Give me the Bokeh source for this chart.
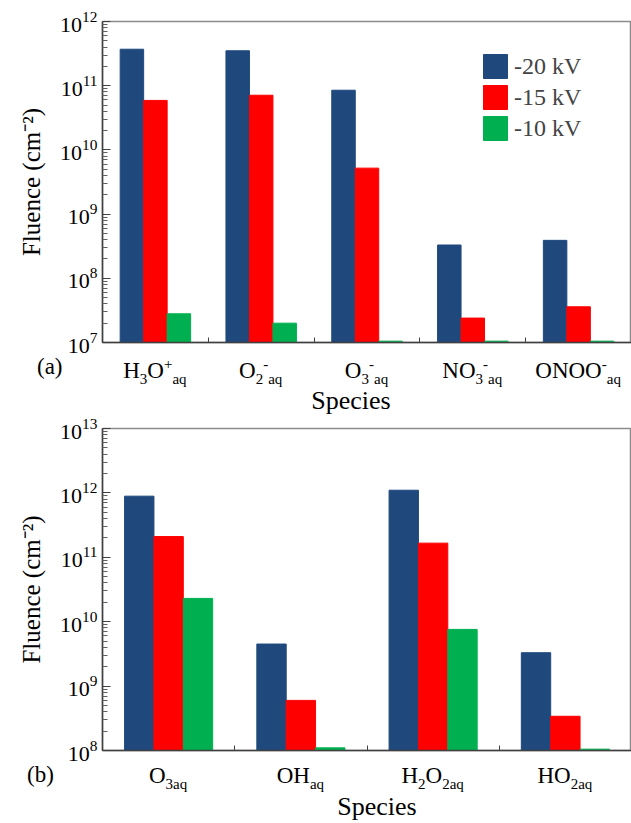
import numpy as np
from bokeh.plotting import figure
from bokeh.models import (ColumnDataSource, FixedTicker, Legend, LegendItem,
                          CustomJSTickFormatter, Div)
from bokeh.transform import dodge
from bokeh.layouts import column
from bokeh.embed import file_html
from bokeh.resources import INLINE

FONT = "Liberation Serif"

series_names = ["-20 kV", "-15 kV", "-10 kV"]
series_colors = ["#1F497D", "#FF0000", "#00B050"]

# ---- panel (a) ----
species_a = ["H3O+aq", "O2-aq", "O3-aq", "NO3-aq", "ONOO-aq"]
fluence_a_20kV = [3.7e11, 3.5e11, 8.5e10, 3.3e8, 3.9e8]
fluence_a_15kV = [5.9e10, 7.1e10, 5.2e9, 2.4e7, 3.6e7]
fluence_a_10kV = [2.8e7, 2.0e7, 1.05e7, 1.05e7, 1.05e7]
ticks_a = [1e7, 1e8, 1e9, 1e10, 1e11, 1e12]
# label markup: n = normal, b = subscript, p = superscript
labels_a = [
    [("H", "n"), ("3", "b"), ("O", "n"), ("+", "p"), ("aq", "b")],
    [("O", "n"), ("2", "b"), ("-", "p"), ("aq", "b")],
    [("O", "n"), ("3", "b"), ("-", "p"), ("aq", "b")],
    [("NO", "n"), ("3", "b"), ("-", "p"), ("aq", "b")],
    [("ONOO", "n"), ("-", "p"), ("aq", "b")],
]

# ---- panel (b) ----
species_b = ["O3aq", "OHaq", "H2O2aq", "HO2aq"]
fluence_b_20kV = [8.9e11, 4.5e9, 1.1e12, 3.3e9]
fluence_b_15kV = [2.1e11, 6.0e8, 1.66e11, 3.4e8]
fluence_b_10kV = [2.3e10, 1.1e8, 7.6e9, 1.05e8]
ticks_b = [1e8, 1e9, 1e10, 1e11, 1e12, 1e13]
labels_b = [
    [("O", "n"), ("3aq", "b")],
    [("OH", "n"), ("aq", "b")],
    [("H", "n"), ("2", "b"), ("O", "n"), ("2aq", "b")],
    [("HO", "n"), ("2aq", "b")],
]

W = 631
FRAME_L = 102
FRAME_W = W - FRAME_L
ASC = 0.8375  # baseline position in a line box of line-height 1 (Liberation Serif)


def rich_html(parts):
    out = []
    for t, k in parts:
        if k == "n":
            out.append(t)
        elif k == "b":
            out.append(f'<span style="font-size:15px;position:relative;top:6px">{t}</span>')
        else:
            out.append(f'<span style="font-size:15px;position:relative;top:-9px">{t}</span>')
    return "".join(out)


def text_span(html, x, baseline, fs, align="center"):
    top = baseline - ASC * fs
    tr = "transform:translateX(-50%);" if align == "center" else ""
    return (f'<span style="position:absolute;left:{x:.1f}px;top:{top:.1f}px;{tr}'
            f'white-space:nowrap;font-size:{fs}px;line-height:1;">{html}</span>')


def make_div(spans, height):
    html = (f'<div style="position:relative;width:{W}px;height:{height}px;'
            f'font-family:\'{FONT}\',serif;color:black;overflow:visible;">'
            + "".join(spans) + "</div>")
    return Div(text=html, width=W, height=height, margin=(0, 0, 0, 0))


def make_panel(species, values, ticks, height, b_top, b_bottom):
    n = len(species)
    ymin, ymax = ticks[0], ticks[-1]
    src = ColumnDataSource(dict(x=np.arange(n) + 0.5, species=species,
                                v20=values[0], v15=values[1], v10=values[2]))
    p = figure(width=W, height=height, x_range=(0, n), y_range=(ymin, ymax),
               y_axis_type="log", output_backend="svg", toolbar_location=None,
               min_border_left=FRAME_L, min_border_right=0, min_border_top=b_top,
               min_border_bottom=b_bottom)
    bw = 0.222
    rends = []
    for col, off, c in zip(["v20", "v15", "v10"], [-bw, 0, bw], series_colors):
        r = p.vbar(x=dodge("x", off), top=col, bottom=ymin, width=bw, source=src,
                   fill_color=c, line_color=c, line_width=1)
        rends.append(r)
    p.xgrid.visible = False
    p.ygrid.visible = False
    p.outline_line_color = "#8c8c8c"
    p.outline_line_width = 1.5
    p.background_fill_color = "white"
    p.border_fill_color = "white"

    minors = [k * t for t in ticks[:-1] for k in range(2, 10)]
    ya = p.yaxis[0]
    ya.ticker = FixedTicker(ticks=ticks, minor_ticks=minors)
    ya.major_tick_in = 8
    ya.major_tick_out = 0
    ya.minor_tick_in = 5
    ya.minor_tick_out = 0
    ya.axis_line_color = "#404040"
    ya.axis_line_width = 1.5
    ya.major_tick_line_color = "#404040"
    ya.minor_tick_line_color = "#606060"
    ya.major_label_text_font = FONT
    ya.major_label_text_font_size = "22px"
    ya.major_label_text_color = "black"
    ya.major_label_standoff = 5
    ya.axis_label = "Fluence (cm\u207b\u00b2)"
    ya.axis_label_text_font = FONT
    ya.axis_label_text_font_size = "25px"
    ya.axis_label_text_font_style = "normal"
    ya.axis_label_text_color = "black"
    ya.axis_label_standoff = 12

    xa = p.xaxis[0]
    xa.ticker = FixedTicker(ticks=list(range(1, n)), minor_ticks=[])
    xa.formatter = CustomJSTickFormatter(code="return ''")
    xa.major_tick_in = 5
    xa.major_tick_out = 0
    xa.major_label_standoff = 0
    xa.axis_line_color = "#404040"
    xa.axis_line_width = 1.5
    xa.major_tick_line_color = "#404040"
    return p, rends


# panel (a): canvas 0..356, frame 21..342
p1, r1 = make_panel(species_a, [fluence_a_20kV, fluence_a_15kV, fluence_a_10kV],
                    ticks_a, 356, 21, 14)
legend = Legend(items=[LegendItem(label=nm, renderers=[r]) for nm, r in zip(series_names, r1)],
                location=(378, 199), padding=0, margin=0, spacing=1,
                glyph_width=30, glyph_height=30, label_standoff=4,
                label_text_font=FONT, label_text_font_size="24px",
                border_line_color=None, background_fill_alpha=0)
p1.add_layout(legend)

# labels below panel (a): div 356..416
spans_a = []
na = len(species_a)
for i, parts in enumerate(labels_a):
    cx = FRAME_L + (i + 0.5) * FRAME_W / na
    spans_a.append(text_span(rich_html(parts), cx, 22, 23))
spans_a.append(text_span("(a)", 37, 18, 23, align="left"))
spans_a.append(text_span("Species", 351, 54, 26))
div_a = make_div(spans_a, 60)

# panel (b): canvas 416..764, frame 428..750
p2, r2 = make_panel(species_b, [fluence_b_20kV, fluence_b_15kV, fluence_b_10kV],
                    ticks_b, 348, 12, 14)

# labels below panel (b): div 764..823
spans_b = []
nb = len(species_b)
for i, parts in enumerate(labels_b):
    cx = FRAME_L + (i + 0.5) * FRAME_W / nb
    spans_b.append(text_span(rich_html(parts), cx, 19, 23))
spans_b.append(text_span("(b)", 27, 18, 23, align="left"))
spans_b.append(text_span("Species", 377, 52, 26))
div_b = make_div(spans_b, 59)

layout = column(p1, div_a, p2, div_b, spacing=0)
open("out.html", "w").write(file_html(layout, INLINE))
